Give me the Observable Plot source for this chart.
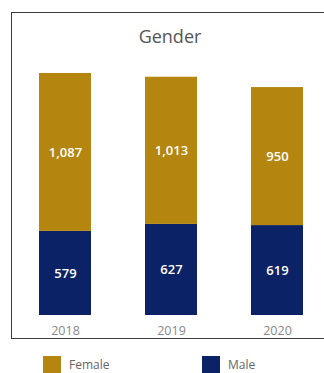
<!DOCTYPE html>
<html>
<head>
<meta charset="utf-8">
<script src="https://cdn.jsdelivr.net/npm/d3@7"></script>
<script src="https://cdn.jsdelivr.net/npm/@observablehq/plot@0.6"></script>
<style>
  html, body { margin: 0; padding: 0; background: #fff; overflow: hidden; }
  #wrap { position: relative; width: 324px; height: 373px; overflow: hidden; font-family: "Open Sans", "Noto Sans", sans-serif; }
  #frame { position: absolute; left: 11px; top: 12px; width: 340px; height: 327px; border: 1.5px solid #3c3c3c; box-sizing: border-box; }
  #title { position: absolute; left: 0; top: 24px; width: 340px; text-align: center; font-size: 18px; color: #555; }
  #chart { position: absolute; left: 0; top: 0; }
  .legend { position: absolute; top: 356px; font-size: 12px; color: #666; display: flex; align-items: flex-start; }
  .legend span.sw { display: inline-block; width: 18px; height: 18px; margin-right: 8px; }
</style>
</head>
<body>
<div id="wrap">
  <div id="frame"></div>
  <div id="title">Gender</div>
  <div id="chart"></div>
  <div class="legend" id="legF" style="left:43px"></div>
  <div class="legend" id="legM" style="left:202px"></div>
</div>
<script>
const years = ["2018", "2019", "2020"];
const male = [579, 627, 619];
const female = [1087, 1013, 950];
const genders = ["Male", "Female"];
const colors = ["#0c2266", "#b5860f"];

const rows = [];
years.forEach((yr, i) => rows.push({year: yr, gender: "Male", value: male[i]}));
years.forEach((yr, i) => rows.push({year: yr, gender: "Female", value: female[i]}));

const fmt = d3.format(",");

const chart = Plot.plot({
  width: 324,
  height: 373,
  marginTop: 53.5,
  marginBottom: 58,
  marginLeft: 12,
  marginRight: 0,
  style: {fontFamily: "'Open Sans', 'Noto Sans', sans-serif", background: "transparent", overflow: "visible"},
  x: {domain: years, range: [12, 330], paddingInner: 0.51, paddingOuter: 0.255, label: null},
  y: {domain: [0, 1800], axis: null},
  color: {domain: genders, range: colors},
  marks: [
    Plot.barY(rows, Plot.stackY({x: "year", y: "value", fill: "gender", z: "gender"})),
    Plot.text(rows, Plot.stackY({x: "year", y: "value", z: "gender", text: d => fmt(d.value), fill: "white", fontSize: 13, fontWeight: 600})),
    Plot.axisX({tickSize: 0, tickPadding: 11, fontSize: 12.5, color: "#888", label: null})
  ]
});
document.getElementById("chart").appendChild(chart);

function legend(id, name, color) {
  const el = document.getElementById(id);
  el.innerHTML = `<span class="sw" style="background:${color}"></span><span>${name}</span>`;
}
legend("legF", genders[1], colors[1]);
legend("legM", genders[0], colors[0]);
</script>
</body>
</html>
